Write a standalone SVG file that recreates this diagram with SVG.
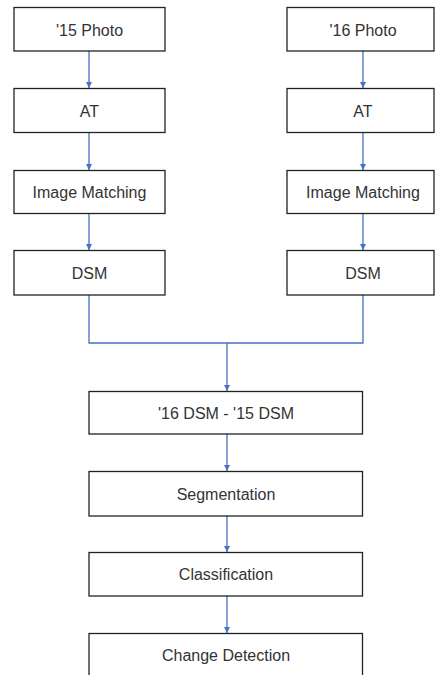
<svg xmlns="http://www.w3.org/2000/svg" width="435" height="675" viewBox="0 0 435 675">
<style>
.box{fill:#fff;stroke:#222;stroke-width:1.3}
.lbl{font-family:"Liberation Sans",Arial,sans-serif;font-size:16px;fill:#333;text-anchor:middle}
.con{fill:none;stroke:#4472c4;stroke-width:1.3}
</style>
<defs>
<marker id="ah" markerWidth="7" markerHeight="7" refX="6" refY="3.5" orient="auto" markerUnits="userSpaceOnUse">
<path d="M0,0.5 L6,3.5 L0,6.5 Z" fill="#4472c4"/>
</marker>
</defs>
<rect width="435" height="675" fill="#fff"/>
<g id="connectors">
<path class="con" d="M89,51 V88" marker-end="url(#ah)"/>
<path class="con" d="M89,133 V170" marker-end="url(#ah)"/>
<path class="con" d="M89,213 V250" marker-end="url(#ah)"/>
<path class="con" d="M363,51 V88" marker-end="url(#ah)"/>
<path class="con" d="M363,133 V170" marker-end="url(#ah)"/>
<path class="con" d="M363,213 V250" marker-end="url(#ah)"/>
<path class="con" d="M89,295 V343 H363 V295"/>
<path class="con" d="M227,343 V391" marker-end="url(#ah)"/>
<path class="con" d="M227,434 V471" marker-end="url(#ah)"/>
<path class="con" d="M227,516 V552" marker-end="url(#ah)"/>
<path class="con" d="M227,596 V633" marker-end="url(#ah)"/>
</g>
<g id="photo15"><rect class="box" x="14" y="7.5" width="151" height="43.5"/><text class="lbl" x="89.5" y="35.5">'15 Photo</text></g>
<g id="at15"><rect class="box" x="14" y="88.5" width="151" height="44"/><text class="lbl" x="89.5" y="116.5">AT</text></g>
<g id="match15"><rect class="box" x="14" y="170.5" width="151" height="43"/><text class="lbl" x="89.5" y="197.5">Image Matching</text></g>
<g id="dsm15"><rect class="box" x="14" y="250.5" width="151" height="44.5"/><text class="lbl" x="89.5" y="278.5">DSM</text></g>
<g id="photo16"><rect class="box" x="287" y="7.5" width="147" height="43.5"/><text class="lbl" x="363" y="35.5">'16 Photo</text></g>
<g id="at16"><rect class="box" x="287" y="88.5" width="147" height="44"/><text class="lbl" x="363" y="116.5">AT</text></g>
<g id="match16"><rect class="box" x="287" y="170.5" width="147" height="43"/><text class="lbl" x="363" y="197.5">Image Matching</text></g>
<g id="dsm16"><rect class="box" x="287" y="250.5" width="147" height="44.5"/><text class="lbl" x="363" y="278.5">DSM</text></g>
<g id="diff"><rect class="box" x="89" y="391.5" width="273.5" height="42.5"/><text class="lbl" x="226" y="418.5">'16 DSM - '15 DSM</text></g>
<g id="seg"><rect class="box" x="89" y="471.5" width="273.5" height="44.5"/><text class="lbl" x="226" y="499.5">Segmentation</text></g>
<g id="cls"><rect class="box" x="89" y="552.5" width="273.5" height="43.5"/><text class="lbl" x="226" y="579.5">Classification</text></g>
<g id="chg"><rect class="box" x="89" y="633.5" width="273.5" height="50"/><text class="lbl" x="226" y="660.5">Change Detection</text></g>
</svg>
